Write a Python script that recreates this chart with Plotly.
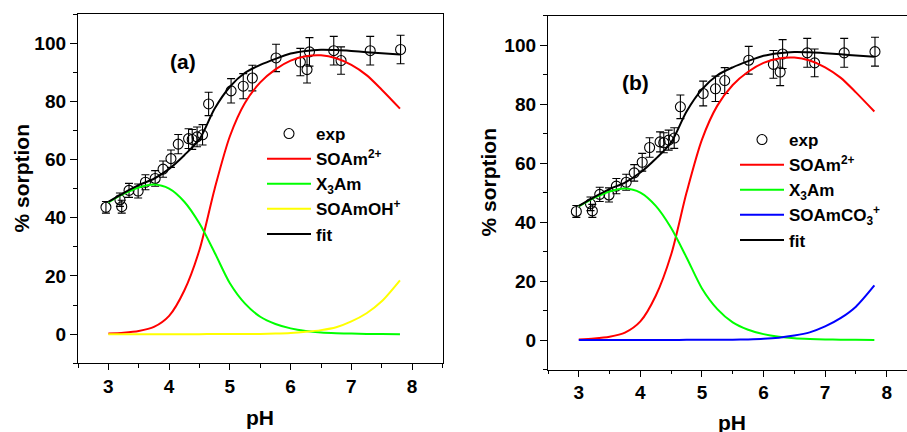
import plotly.graph_objects as go

# ---------------- data ----------------
ph_exp = [2.96, 3.19, 3.22, 3.34, 3.49, 3.61, 3.77, 3.90, 4.03, 4.15, 4.32, 4.38, 4.46, 4.55,
          4.65, 5.02, 5.22, 5.37, 5.76, 6.16, 6.27, 6.31, 6.71, 6.83, 7.31, 7.81]
sorp_exp = [43.6, 46.2, 43.8, 49.4, 49.2, 52.2, 53.5, 56.7, 60.3, 65.3, 67.2, 66.9, 67.8, 68.5,
            79.1, 83.6, 85.2, 88.0, 94.9, 93.5, 90.9, 97.0, 97.4, 94.0, 97.4, 97.8]
err_exp = [2.0, 2.3, 2.2, 2.4, 2.4, 2.6, 2.7, 2.8, 3.0, 3.3, 3.4, 3.4, 3.4, 3.5,
           4.0, 4.2, 4.3, 4.4, 4.7, 4.7, 4.6, 4.9, 4.9, 4.7, 4.9, 4.9]

ph_model = [3.0, 3.25, 3.5, 3.75, 4.0, 4.25, 4.5, 4.75, 5.0, 5.25, 5.5, 5.75, 6.0,
            6.25, 6.5, 6.75, 7.0, 7.25, 7.5, 7.8]
soam2 = [0.2, 0.5, 1.1, 2.5, 6.3, 15.0, 29.0, 50.0, 68.0, 79.5, 86.5, 91.0, 94.0,
         95.5, 95.8, 94.8, 92.5, 89.0, 84.0, 77.5]
x3am = [45.3, 48.2, 50.4, 51.4, 50.0, 45.5, 38.0, 28.0, 17.5, 10.5, 6.0, 3.5, 2.0,
        1.1, 0.6, 0.35, 0.2, 0.1, 0.05, 0.0]
soamoh = [0.0, 0.0, 0.0, 0.0, 0.0, 0.0, 0.0, 0.05, 0.05, 0.1, 0.1, 0.2, 0.4,
          0.8, 1.4, 2.4, 4.4, 7.2, 11.3, 18.5]
soamco3 = [0.0, 0.0, 0.0, 0.0, 0.0, 0.0, 0.0, 0.05, 0.05, 0.1, 0.1, 0.2, 0.4,
           0.8, 1.5, 2.6, 4.6, 7.4, 11.3, 18.5]
fit = [45.5, 48.5, 51.2, 53.4, 56.8, 61.5, 67.0, 77.5, 85.0, 89.8, 92.5, 94.6, 96.4,
       97.3, 97.7, 97.6, 97.3, 96.9, 96.5, 96.1]

FONT = "Liberation Sans, Arial, sans-serif"

fig = go.Figure()


def add_panel(xa, ya, leg, fourth_name, fourth_vals, fourth_color):
    fig.add_trace(go.Scatter(
        x=ph_exp, y=sorp_exp, mode="markers", name="exp", xaxis=xa, yaxis=ya,
        legend=leg, legendgroup=leg + "exp",
        marker=dict(symbol="circle-open", size=10, color="black", line=dict(width=1.1)),
        error_y=dict(type="data", array=err_exp, color="black", thickness=1.1, width=4)))
    specs = [("SOAm<sup>2+</sup>", soam2, "#FF0000"),
             ("X<sub>3</sub>Am", x3am, "#00FF00"),
             (fourth_name, fourth_vals, fourth_color),
             ("fit", fit, "black")]
    for name, vals, col in specs:
        fig.add_trace(go.Scatter(
            x=ph_model, y=vals, mode="lines", name=name, xaxis=xa, yaxis=ya,
            legend=leg, legendgroup=leg + name,
            line=dict(color=col, width=2, shape="spline", smoothing=0.8)))


add_panel("x", "y", "legend", "SOAmOH<sup>+</sup>", soamoh, "#FFFF00")
add_panel("x2", "y2", "legend2", "SOAmCO<sub>3</sub><sup>+</sup>", soamco3, "#0000FF")

W, H = 907, 432
tickfont = dict(family=FONT, size=19, color="black", weight="bold")


def xax(dom, rng):
    return dict(domain=dom, range=rng, dtick=1, tick0=0, showline=True, linecolor="black",
                linewidth=1.3, mirror=True, ticks="outside", ticklen=6, tickwidth=1.3,
                tickcolor="black", showgrid=False, zeroline=False, tickfont=tickfont,
                minor=dict(ticks="outside", ticklen=3.5, tickwidth=1.3, tickcolor="black", dtick=0.5))


def yax(dom, mirror, anchor):
    return dict(domain=dom, range=[-10, 110], dtick=20, tick0=0, showline=True, linecolor="black",
                linewidth=1.3, mirror=mirror, ticks="outside", ticklen=7, tickwidth=1.3,
                tickcolor="black", showgrid=False, zeroline=False, tickfont=tickfont,
                anchor=anchor,
                minor=dict(ticks="outside", ticklen=4, tickwidth=1.3, tickcolor="black", dtick=10))


legfont = dict(family=FONT, size=17, color="black", weight="bold")

fig.update_layout(
    width=W, height=H, margin=dict(l=0, r=0, t=0, b=0),
    plot_bgcolor="white", paper_bgcolor="white",
    xaxis=xax([78 / W, 442.5 / W], [2.5, 8.5]) | dict(anchor="y"),
    yaxis=yax([1 - 363.3 / H, 1 - 14 / H], True, "x"),
    xaxis2=xax([548 / W, 1.0], [2.5, 8.33]) | dict(anchor="y2"),
    yaxis2=yax([1 - 369.5 / H, 1 - 15.7 / H], False, "x2"),
    legend=dict(x=262 / W, y=1 - 116 / H, xanchor="left", yanchor="top", font=legfont,
                bgcolor="rgba(0,0,0,0)", tracegroupgap=3, itemwidth=44, traceorder="normal"),
    legend2=dict(x=735 / W, y=1 - 122 / H, xanchor="left", yanchor="top", font=legfont,
                 bgcolor="rgba(0,0,0,0)", tracegroupgap=5, itemwidth=44, traceorder="normal"),
)

ann_font = dict(family=FONT, size=21, color="black", weight="bold")
annots = [
    ("% sorption", 21, 178.5, -90),
    ("% sorption", 488, 181.5, -90),
    ("pH", 260, 417, 0),
    ("pH", 732, 422, 0),
    ("(a)", 183, 61, 0),
    ("(b)", 635, 82, 0),
]
for txt, px, py, ang in annots:
    fig.add_annotation(text=txt, x=px / W, y=1 - py / H, xref="paper", yref="paper",
                       showarrow=False, textangle=ang, font=ann_font,
                       xanchor="center", yanchor="middle")

fig.write_html("out.html")
